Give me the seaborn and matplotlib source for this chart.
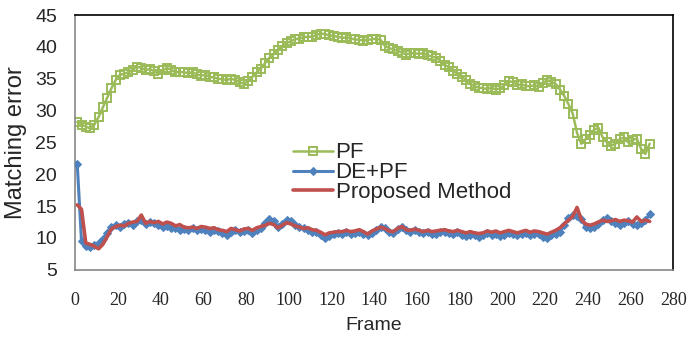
import numpy as np
import pandas as pd
import matplotlib
matplotlib.use("Agg")
import matplotlib.pyplot as plt
import seaborn as sns

# frames sampled every 2nd frame (1, 3, 5, ... 269)
frames = list(range(1, 271, 2))

# PF matching error
pf = [28.2, 27.8, 27.5, 27.2, 27.8, 29.0, 30.5, 32.0, 33.5, 34.8,   # 1-19
      35.6, 35.8, 36.0, 36.4, 36.9, 36.7, 36.4, 36.5, 36.2, 35.8,   # 21-39
      36.3, 36.7, 36.4, 36.0, 36.1, 36.0, 35.9, 36.0, 35.7, 35.5,   # 41-59
      35.6, 35.3, 35.2, 35.0, 34.9, 34.8, 35.0, 34.8, 34.5, 34.2,   # 61-79
      34.6, 35.3, 36.0, 36.6, 37.5, 38.3, 38.9, 39.5, 40.1, 40.6,   # 81-99
      40.9, 41.2, 41.3, 41.5, 41.6, 41.6, 41.9, 42.1, 42.0, 41.8,   # 101-119
      41.7, 41.6, 41.4, 41.5, 41.3, 41.2, 41.1, 41.0, 41.1, 41.2,   # 121-139
      41.3, 41.1, 40.2, 39.8, 39.6, 39.4, 39.1, 38.8, 39.0, 39.0,   # 141-159
      38.9, 39.0, 38.7, 38.5, 38.3, 37.8, 37.2, 36.8, 36.2, 35.8,   # 161-179
      35.3, 34.8, 34.2, 33.8, 33.6, 33.5, 33.4, 33.6, 33.3, 33.5,   # 181-199
      34.0, 34.6, 34.5, 34.0, 34.1, 33.9, 33.8, 34.0, 33.7, 34.3,   # 201-219
      34.8, 34.5, 34.2, 33.3, 32.3, 31.0, 29.5, 26.5, 24.8, 25.5,   # 221-239
      26.2, 27.0, 27.3, 25.8, 25.0, 24.5, 24.8, 25.5, 25.8, 25.0,   # 241-259
      25.4, 25.6, 24.0, 23.2, 24.8]                                 # 261-269

# DE+PF matching error
de_pf = [21.6, 9.5, 8.8, 8.6, 8.9, 9.2, 9.8, 10.8, 11.8, 12.0,
         11.7, 12.2, 12.4, 12.0, 12.6, 12.8, 12.2, 12.5, 12.3, 12.0,
         11.8, 11.9, 11.6, 11.5, 11.3, 11.4, 11.2, 11.5, 11.3, 11.4,
         11.2, 11.0, 11.3, 11.1, 10.8, 10.5, 11.0, 11.2, 10.9, 11.1,
         11.3, 10.8, 11.2, 11.5, 12.4, 13.0, 12.6, 11.8, 12.2, 12.8,
         12.6, 12.0, 11.7, 11.5, 11.3, 11.0, 10.9, 10.5, 10.0, 10.3,
         10.6, 10.8, 10.7, 10.9, 10.6, 10.8, 11.0, 10.7, 10.4, 10.8,
         11.2, 11.8, 11.5, 11.0, 10.8, 11.4, 11.8, 11.2, 11.0, 11.3,
         11.0, 10.8, 10.9, 10.6, 10.7, 10.9, 11.0, 10.8, 10.7, 10.9,
         10.5, 10.3, 10.5, 10.4, 10.2, 10.4, 10.8, 10.5, 10.7, 10.3,
         10.5, 10.8, 10.6, 10.4, 10.6, 10.8, 10.5, 10.7, 10.6, 10.2,
         10.0, 10.4, 10.6, 11.0, 12.0, 13.2, 13.6, 13.4, 13.0, 11.8,
         11.5, 11.8, 12.2, 12.8, 13.2, 12.6, 12.4, 12.0, 12.3, 12.7,
         12.2, 12.0, 12.4, 12.8, 13.7]

# Proposed method matching error
proposed = [15.2, 14.5, 9.2, 9.0, 8.7, 8.3, 9.0, 10.2, 11.4, 11.8,
            12.0, 11.9, 12.3, 12.5, 12.6, 13.6, 12.3, 12.6, 12.4, 12.6,
            12.2, 12.5, 12.3, 11.9, 12.1, 11.7, 11.6, 11.7, 11.5, 11.8,
            11.7, 11.5, 11.6, 11.3, 11.2, 11.0, 11.5, 11.3, 11.1, 11.4,
            11.5, 11.2, 11.6, 11.8, 12.0, 12.3, 12.1, 11.6, 12.0, 12.4,
            12.2, 11.9, 11.7, 11.5, 11.6, 11.3, 11.2, 10.9, 10.5, 10.8,
            10.9, 11.0, 11.0, 11.2, 11.0, 11.1, 11.3, 11.0, 10.6, 11.1,
            11.4, 11.7, 11.5, 11.1, 11.0, 11.5, 11.8, 11.3, 11.2, 11.4,
            11.2, 11.0, 11.2, 11.0, 11.1, 11.2, 11.3, 11.1, 11.0, 11.2,
            11.0, 10.8, 11.0, 10.8, 10.7, 10.8, 11.1, 10.9, 11.1, 10.8,
            11.0, 11.2, 11.0, 10.8, 11.0, 11.2, 10.9, 11.1, 11.0, 10.8,
            10.6, 10.9, 11.2, 11.6, 12.2, 12.8, 13.4, 14.8, 12.9, 12.2,
            12.0, 12.2, 12.5, 12.8, 12.6, 12.7, 12.9, 12.6, 12.8, 12.7,
            12.5, 13.3, 12.6, 12.8, 12.6]

x_ticks = list(range(0, 281, 20))
y_ticks = list(range(5, 46, 5))

sns.set_style("white")
plt.rcParams['font.family'] = ['Liberation Sans', 'DejaVu Sans']

fig = plt.figure(figsize=(6.89, 3.42), dpi=100)
ax = fig.add_axes([0.109, 0.211, 0.868, 0.745])

sns.lineplot(x=frames, y=pf, ax=ax, color='#9BBB59', linewidth=1.8,
             marker='s', markersize=5.5, markerfacecolor='none',
             markeredgecolor='#9BBB59', markeredgewidth=1.4, label='PF', zorder=2)
sns.lineplot(x=frames, y=de_pf, ax=ax, color='#4F81BD', linewidth=2.2,
             marker='D', markersize=4.5, markeredgecolor='#4F81BD',
             label='DE+PF', zorder=3)
sns.lineplot(x=frames, y=proposed, ax=ax, color='#C0504D', linewidth=2.6,
             label='Proposed Method', zorder=4)

ax.set_xlim(0, 280)
ax.set_ylim(5, 45)
ax.set_xticks(x_ticks)
ax.set_yticks(y_ticks)
ax.set_xticklabels([str(t) for t in x_ticks], family=['Liberation Serif'], fontsize=13)
ax.set_yticklabels([str(t) for t in y_ticks], fontsize=14)
ax.tick_params(axis='both', direction='in', length=5, width=1, color='#868686')
ax.tick_params(axis='x', pad=16)
ax.tick_params(axis='y', pad=13)

for side in ['left', 'bottom']:
    ax.spines[side].set_color('#868686')
    ax.spines[side].set_linewidth(1.2)
for side in ['top', 'right']:
    ax.spines[side].set_color('black')
    ax.spines[side].set_linewidth(1.2)

ax.set_xlabel('Frame', fontsize=14, labelpad=6)
ax.set_ylabel('Matching error', fontsize=17, labelpad=6)

ax.legend(loc='upper left', bbox_to_anchor=(0.35, 0.535), frameon=False,
          fontsize=16, handlelength=1.8, handletextpad=0.1, labelspacing=-0.05,
          borderaxespad=0, numpoints=1)

fig.savefig('out.png', dpi=100)
